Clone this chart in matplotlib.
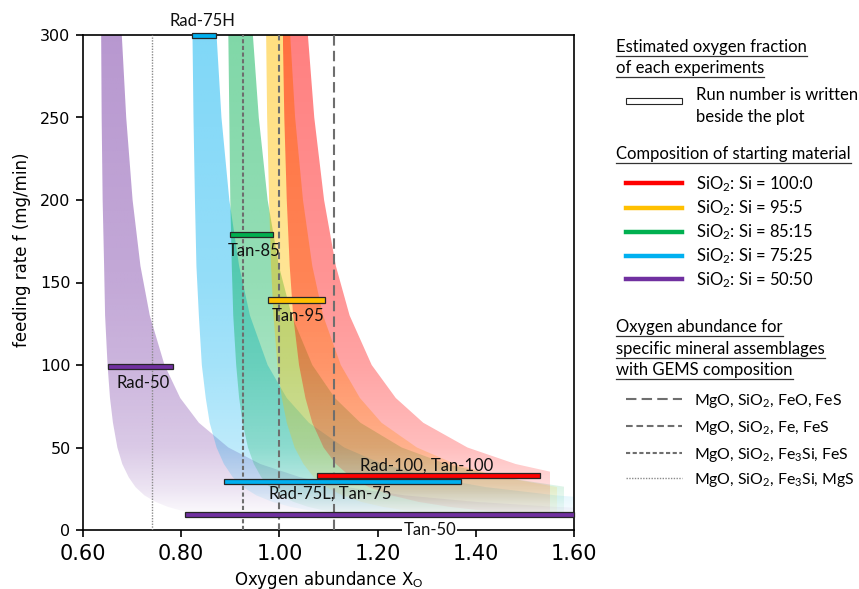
import matplotlib
matplotlib.use('Agg')
import matplotlib.pyplot as plt
import numpy as np
from matplotlib.patches import Polygon, Rectangle
from matplotlib.lines import Line2D
from matplotlib.colors import to_rgb

plt.rcParams['mathtext.fontset'] = 'custom'
plt.rcParams['mathtext.rm'] = 'Lato'
plt.rcParams['mathtext.it'] = 'Lato:italic'
plt.rcParams['mathtext.bf'] = 'Lato:bold'

# ── Data ──────────────────────────────────────────────────────────────────────

# feeding-rate levels at which the band edges were read
feed = [300, 250, 200, 160, 130, 100, 80, 65, 50, 40, 32, 26, 21, 17, 14, 12, 10]

band_colors = ['#7030A0', '#00B0F0', '#00B050', '#FFC000', '#FF0000']
band_cut = [1.60, 1.60, 1.58, 1.565, 1.55]

purple_low = [0.637, 0.638, 0.640, 0.643, 0.645, 0.650, 0.655, 0.661, 0.670,
              0.680, 0.693, 0.707, 0.725, 0.748, 0.773, 0.797, 0.830]
purple_high = [0.679, 0.688, 0.701, 0.717, 0.736, 0.766, 0.798, 0.836, 0.896,
               0.961, 1.042, 1.136, 1.255, 1.401, 1.565, 1.719, 1.936]
blue_low = [0.823, 0.825, 0.828, 0.831, 0.836, 0.842, 0.850, 0.858, 0.872,
            0.887, 0.905, 0.926, 0.953, 0.986, 1.023, 1.058, 1.107]
blue_high = [0.872, 0.882, 0.898, 0.918, 0.940, 0.976, 1.015, 1.060, 1.132,
             1.210, 1.308, 1.420, 1.563, 1.738, 1.934, 2.120, 2.380]
green_low = [0.896, 0.898, 0.900, 0.903, 0.906, 0.912, 0.918, 0.925, 0.936,
             0.948, 0.963, 0.980, 1.002, 1.029, 1.059, 1.088, 1.128]
green_high = [0.946, 0.958, 0.976, 0.999, 1.025, 1.067, 1.113, 1.165, 1.249,
              1.340, 1.454, 1.585, 1.752, 1.956, 2.185, 2.400, 2.705]
yellow_low = [0.973, 0.975, 0.979, 0.983, 0.988, 0.996, 1.005, 1.015, 1.031,
              1.049, 1.070, 1.096, 1.128, 1.167, 1.211, 1.253, 1.311]
yellow_high = [1.022, 1.032, 1.048, 1.067, 1.089, 1.125, 1.164, 1.208, 1.280,
               1.358, 1.454, 1.566, 1.708, 1.882, 2.077, 2.262, 2.520]
red_low = [1.007, 1.010, 1.015, 1.021, 1.028, 1.040, 1.053, 1.067, 1.090,
           1.115, 1.146, 1.182, 1.228, 1.284, 1.347, 1.407, 1.490]
red_high = [1.058, 1.071, 1.091, 1.115, 1.143, 1.188, 1.237, 1.293, 1.383,
            1.481, 1.602, 1.743, 1.922, 2.140, 2.386, 2.618, 2.943]

band_low = [purple_low, blue_low, green_low, yellow_low, red_low]
band_high = [purple_high, blue_high, green_high, yellow_high, red_high]

# experiments: estimated oxygen fraction ranges
exp_names = ['Rad-75H', 'Tan-85', 'Tan-95', 'Rad-50', 'Rad-100, Tan-100',
             'Rad-75L, Tan-75', 'Tan-50']
exp_x0 = [0.823, 0.899, 0.977, 0.650, 1.077, 0.888, 0.808]
exp_x1 = [0.870, 0.986, 1.093, 0.784, 1.530, 1.369, 1.600]
exp_f = [299.6, 179.1, 139.3, 99.2, 33.0, 29.3, 9.3]
exp_colors = ['#00B0F0', '#00B050', '#FFC000', '#7030A0', '#FF0000',
              '#00B0F0', '#7030A0']
label_x = [0.844, 0.948, 1.038, 0.722, 1.300, 1.103, 1.306]
label_y = [305.5, 166.0, 126.5, 85.8, 36.0, 18.8, 0.0]

# oxygen abundance of mineral assemblages (vertical lines)
ref_x = [1.111, 1.000, 0.925, 0.740]
ref_labels = ['MgO, SiO$_2$, FeO, FeS', 'MgO, SiO$_2$, Fe, FeS',
              'MgO, SiO$_2$, Fe$_3$Si, FeS', 'MgO, SiO$_2$, Fe$_3$Si, MgS']
ref_styles = [(0, (5, 2.5)), (0, (3.2, 1.8)), (0, (2, 1.2)), (0, (1, 1))]
ref_widths = [1.5, 1.5, 1.5, 1.0]
ref_colors = ['#6E6E6E', '#6E6E6E', '#6E6E6E', '#8A8A8A']

comp_labels = ['SiO$_2$: Si = 100:0', 'SiO$_2$: Si = 95:5', 'SiO$_2$: Si = 85:15',
               'SiO$_2$: Si = 75:25', 'SiO$_2$: Si = 50:50']
comp_colors = ['#FF0000', '#FFC000', '#00B050', '#00B0F0', '#7030A0']

# ── Figure ────────────────────────────────────────────────────────────────────

W, H = 859, 589
def fx(px): return px / W
def fy(py): return 1 - py / H

fig = plt.figure(figsize=(W / 100, H / 100), dpi=100)
ax = fig.add_axes([fx(83), fy(530), (574 - 83) / W, (530 - 35) / H])

# gradient bands (fade out towards low feeding rate)
yy = np.linspace(10, 300, 300)
alpha = np.interp(yy, [10, 25, 50, 100, 150, 300], [0.03, 0.13, 0.26, 0.36, 0.42, 0.5])

for i, (col, lo, hi, cut) in enumerate(zip(band_colors, band_low, band_high, band_cut)):
    verts = list(zip(hi, feed)) + list(zip(lo[::-1], feed[::-1]))
    poly = Polygon(verts, closed=True, facecolor='none', edgecolor='none')
    ax.add_patch(poly)
    rgba = np.zeros((len(yy), 2, 4))
    rgba[..., :3] = to_rgb(col)
    rgba[..., 3] = alpha[:, None]
    im = ax.imshow(rgba, extent=[min(lo), cut, 10, 300], origin='lower',
                   aspect='auto', interpolation='bilinear', zorder=1 + i * 0.1)
    im.set_clip_path(poly)

# vertical reference lines
for x, ls, lw, c in zip(ref_x, ref_styles, ref_widths, ref_colors):
    ax.axvline(x, color=c, lw=lw, linestyle=ls, zorder=3)

# experiment bars
bars = ax.barh(exp_f, np.array(exp_x1) - np.array(exp_x0), left=exp_x0, height=3.4,
               color=exp_colors, edgecolor='#262626', linewidth=0.9, zorder=5)
for b in bars:
    b.set_clip_on(False)

for name, lx, ly in zip(exp_names, label_x, label_y):
    kw = dict(ha='center', va='baseline')
    if name == 'Tan-50':
        kw = dict(ha='center', va='center',
                  bbox=dict(boxstyle='square,pad=0.05', facecolor='white', edgecolor='none'))
    ax.text(lx, ly, name, fontsize=12, family='Lato', color='#111111',
            zorder=10, clip_on=False, **kw)

# axes styling
ax.set_xlim(0.6, 1.6)
ax.set_ylim(0, 300)
ax.set_xticks(np.arange(0.6, 1.61, 0.2))
ax.set_xticklabels(['%.2f' % t for t in np.arange(0.6, 1.61, 0.2)])
ax.set_yticks(np.arange(0, 301, 50))
for s in ax.spines.values():
    s.set_linewidth(1.2)
    s.set_color('black')
ax.tick_params(axis='both', direction='out', length=5, width=1.2, top=False, right=False)
ax.tick_params(axis='x', labelsize=15, pad=5)
ax.tick_params(axis='y', labelsize=11.5, pad=4)

ax.set_xlabel('Oxygen abundance X$_\\mathrm{O}$', fontsize=12,
              family='DejaVu Sans')
ax.xaxis.set_label_coords(0.5, -0.078)
ax.xaxis.label.set_va('top')
ax.set_ylabel('feeding rate f (mg/min)', fontsize=12)
ax.yaxis.set_label_coords(-0.125, 0.566)
ax.yaxis.label.set_va('center')

# ── Legend (drawn by hand) ────────────────────────────────────────────────────

LFONT = dict(fontsize=12, family='Lato', color='black')
headers = [('Estimated oxygen fraction', 52), ('of each experiments', 73.5),
           ('Composition of starting material', 159),
           ('Oxygen abundance for', 332), ('specific mineral assemblages', 354),
           ('with GEMS composition', 375)]
hdr_texts = [fig.text(fx(616), fy(py), t, ha='left', va='baseline', **LFONT)
             for t, py in headers]

fig.add_artist(Rectangle((fx(626), fy(104.3)), fx(682) - fx(626), 6 / H,
                         transform=fig.transFigure, facecolor='white',
                         edgecolor='#262626', lw=0.8))
fig.text(fx(696), fy(100), 'Run number is written', ha='left', va='baseline', **LFONT)
fig.text(fx(696), fy(122), 'beside the plot', ha='left', va='baseline', **LFONT)

for lab, col, py in zip(comp_labels, comp_colors, [183.3, 207.7, 231.7, 255.7, 279.3]):
    fig.add_artist(Line2D([fx(626), fx(682)], [fy(py), fy(py)], color=col, lw=3.2,
                          transform=fig.transFigure))
    fig.text(fx(696), fy(py + 6), lab, ha='left', va='baseline', **LFONT)

for lab, ls, lw, c, py in zip(ref_labels, ref_styles, ref_widths, ref_colors,
                              [399, 426, 452.7, 478]):
    fig.add_artist(Line2D([fx(626), fx(682)], [fy(py), fy(py)], color=c, lw=lw,
                          linestyle=ls, transform=fig.transFigure))
    fig.text(fx(694), fy(py + 6), lab, ha='left', va='baseline',
             fontsize=11.4, family='Lato', color='black')

# underline the headers
fig.canvas.draw()
r = fig.canvas.get_renderer()
for t, (_, py) in zip(hdr_texts, headers):
    bb = t.get_window_extent(r)
    fig.add_artist(Line2D([bb.x0 / W, bb.x1 / W], [fy(py + 3.5)] * 2, color='#333333',
                          lw=0.9, transform=fig.transFigure))

fig.savefig('out.png', dpi=100)
